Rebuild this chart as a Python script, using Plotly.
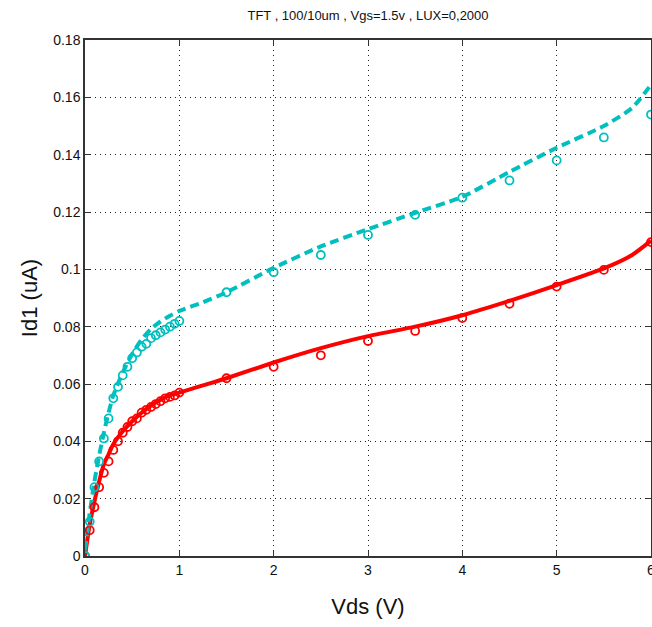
import plotly.graph_objects as go

# Measured points
x_meas = [0, 0.05, 0.1, 0.15, 0.2, 0.25, 0.3, 0.35, 0.4, 0.45, 0.5, 0.55, 0.6, 0.65,
          0.7, 0.75, 0.8, 0.85, 0.9, 0.95, 1.0, 1.5, 2, 2.5, 3, 3.5, 4, 4.5, 5, 5.5, 6]
red_meas = [0.0, 0.009, 0.017, 0.024, 0.029, 0.033, 0.037, 0.040, 0.043, 0.045, 0.047,
            0.048, 0.050, 0.051, 0.052, 0.053, 0.054, 0.055, 0.0555, 0.056, 0.057,
            0.062, 0.066, 0.070, 0.075, 0.0785, 0.083, 0.088, 0.094, 0.0998, 0.1095]
cyan_meas = [0.0, 0.012, 0.024, 0.033, 0.041, 0.048, 0.055, 0.059, 0.063, 0.066, 0.069,
             0.071, 0.073, 0.074, 0.076, 0.077, 0.078, 0.079, 0.080, 0.081, 0.082,
             0.092, 0.099, 0.105, 0.112, 0.119, 0.125, 0.131, 0.138, 0.146, 0.154]

# Model curves
x_fit = [0, 0.05, 0.1, 0.15, 0.2, 0.25, 0.3, 0.4, 0.5, 0.6, 0.7, 0.8, 0.9, 1.0, 1.25,
         1.5, 2, 2.5, 3, 3.5, 4, 4.5, 5, 5.5, 5.8, 6]
red_fit = [0.0, 0.011, 0.019, 0.026, 0.032, 0.0355, 0.039, 0.0435, 0.047, 0.050, 0.0525,
           0.0545, 0.056, 0.057, 0.0595, 0.062, 0.0675, 0.0725, 0.0767, 0.080, 0.084,
           0.089, 0.0945, 0.1003, 0.105, 0.110]
cyan_fit = [0.002, 0.015, 0.026, 0.035, 0.043, 0.050, 0.056, 0.064, 0.0705, 0.0755, 0.0792,
            0.0818, 0.0838, 0.0855, 0.0885, 0.092, 0.1005, 0.108, 0.114, 0.1197, 0.1253,
            0.134, 0.1424, 0.150, 0.1563, 0.1644]

x_ticks = [0, 1, 2, 3, 4, 5, 6]
y_ticks = [0, 0.02, 0.04, 0.06, 0.08, 0.1, 0.12, 0.14, 0.16, 0.18]
y_ticktext = ["0", "0.02", "0.04", "0.06", "0.08", "0.1", "0.12", "0.14", "0.16", "0.18"]

RED = "#FF0000"
CYAN = "#00BFBF"
FONT = "Liberation Sans, Arial, sans-serif"

fig = go.Figure()
fig.add_trace(go.Scatter(x=x_fit, y=red_fit, mode="lines",
                         line=dict(color=RED, width=4, shape="spline", smoothing=0.6),
                         showlegend=False))
fig.add_trace(go.Scatter(x=x_fit, y=cyan_fit, mode="lines",
                         line=dict(color=CYAN, width=4, dash="9px,5px", shape="spline",
                                   smoothing=0.6),
                         showlegend=False))
fig.add_trace(go.Scatter(x=x_meas, y=red_meas, mode="markers",
                         marker=dict(symbol="circle-open", size=8, color=RED,
                                     line=dict(width=1.8, color=RED)), showlegend=False))
fig.add_trace(go.Scatter(x=x_meas, y=cyan_meas, mode="markers",
                         marker=dict(symbol="circle-open", size=8, color=CYAN,
                                     line=dict(width=1.8, color=CYAN)), showlegend=False))

axis_common = dict(
    showline=True, linecolor="#333333", linewidth=1.5, mirror="ticks",
    ticks="inside", ticklen=5, tickcolor="#333333", tickwidth=1,
    showgrid=True, gridcolor="#222222", gridwidth=1, griddash="1px,4px",
    zeroline=False, automargin=False, ticklabeloverflow="allow",
    tickfont=dict(family=FONT, size=14, color="#111111"),
)

fig.update_xaxes(range=[0, 6], tickvals=x_ticks, ticktext=[str(v) for v in x_ticks],
                 title=dict(text="Vds (V)", font=dict(family=FONT, size=22, color="#111111"),
                            standoff=22),
                 **axis_common)
fig.update_yaxes(range=[0, 0.18], tickvals=y_ticks, ticktext=y_ticktext,
                 title=dict(text="Id1 (uA)", font=dict(family=FONT, size=22, color="#111111"),
                            standoff=10),
                 **axis_common)

fig.update_layout(
    width=652, height=627,
    margin=dict(l=85, r=1, t=40, b=71),
    paper_bgcolor="white", plot_bgcolor="white",
    title=dict(text="TFT , 100/10um , Vgs=1.5v , LUX=0,2000",
               font=dict(family=FONT, size=13, color="#111111"),
               x=0.5, xref="paper", xanchor="center",
               y=1 - 15 / 627, yanchor="middle"),
)

fig.write_html("out.html")
